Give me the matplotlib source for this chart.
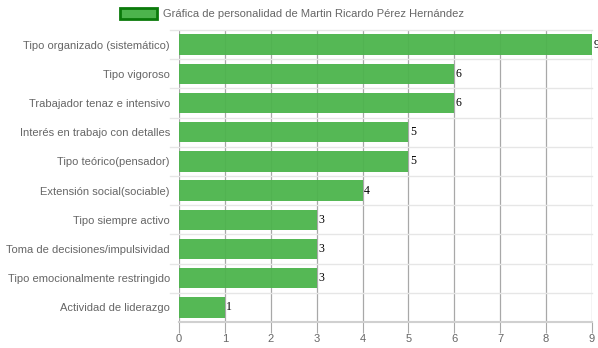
import numpy as np
from matplotlib import pyplot as plt
from matplotlib.patches import Rectangle

CATEGORIES = [
    "Tipo organizado (sistemático)",
    "Tipo vigoroso",
    "Trabajador tenaz e intensivo",
    "Interés en trabajo con detalles",
    "Tipo teórico(pensador)",
    "Extensión social(sociable)",
    "Tipo siempre activo",
    "Toma de decisiones/impulsividad",
    "Tipo emocionalmente restringido",
    "Actividad de liderazgo",
]
VALUES = [9, 6, 6, 5, 5, 4, 3, 3, 3, 1]
XTICKS = list(range(0, 10))
TITLE = "Gráfica de personalidad de Martin Ricardo Pérez Hernández"

W, H = 598, 348
GRAY = "#666666"
BAR = "#4cb44c"

plt.rcParams['font.family'] = ['Liberation Sans', 'DejaVu Sans']

fig = plt.figure(figsize=(W / 100, H / 100), dpi=100)
ax = fig.add_axes([179 / W, 1 - 322 / H, (592 - 179) / W, (322 - 30) / H])

n = len(CATEGORIES)
y = np.arange(n)

# grid: dark verticals at each tick, light horizontals between rows
for xv in XTICKS:
    ax.axvline(xv, color="#a8a8a8", lw=0.9, zorder=1)
for b in np.arange(0.5, n - 0.5, 1):
    ax.plot([-0.2, 9], [b, b], color="#e6e6e6", lw=1, zorder=1, clip_on=False)
ax.plot([-0.2, 9], [-0.5, -0.5], color="#e6e6e6", lw=1, zorder=1, clip_on=False)

ax.barh(y, VALUES, height=0.7, color=BAR, alpha=0.95, zorder=2)
for yi, v in zip(y, VALUES):
    ax.text(v + 0.03, yi, str(v), va="center", ha="left", fontsize=8.5,
            family="Liberation Serif", color="black", zorder=3)

ax.set_xlim(0, 9)
ax.set_ylim(n - 0.5, -0.5)
ax.set_xticks(XTICKS)
ax.set_yticks(y)
ax.set_yticklabels(CATEGORIES)
ax.tick_params(axis="x", length=8, color="#a8a8a8", labelcolor=GRAY, labelsize=8, pad=1)
ax.tick_params(axis="y", length=0, labelcolor=GRAY, labelsize=8, pad=6.5)
for s in ["top", "right", "left"]:
    ax.spines[s].set_visible(False)
ax.spines["bottom"].set_color("#d0d0d0")
ax.spines["bottom"].set_linewidth(1.5)

# legend box and label
fig.patches.append(Rectangle((120 / W, 1 - 19 / H), 37 / W, 11 / H,
                             transform=fig.transFigure, facecolor=BAR,
                             edgecolor="#0a7a0a", lw=2))
fig.text(163 / W, 1 - 14 / H, TITLE, ha="left", va="center", fontsize=8, color=GRAY)

fig.savefig("out.png", dpi=100)
